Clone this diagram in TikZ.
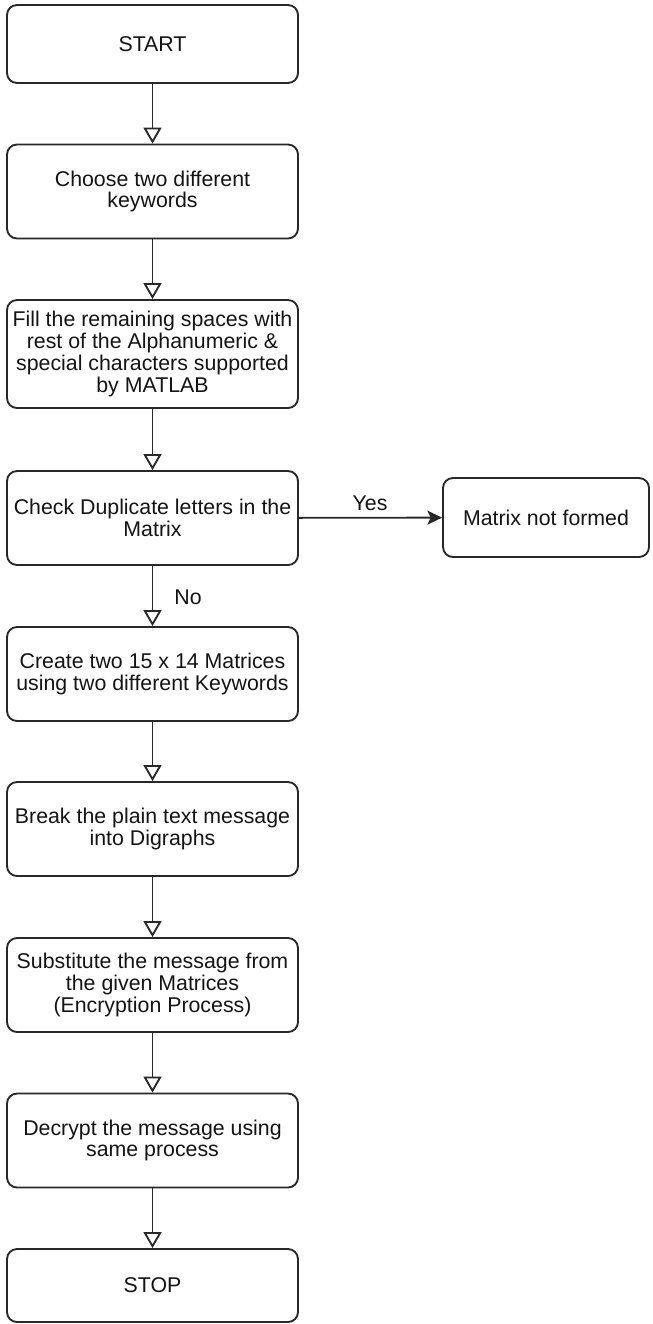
\documentclass[tikz,border=0pt]{standalone}
\usepackage{fontspec}
\setmainfont{Liberation Sans}
\usetikzlibrary{arrows.meta, positioning}
\definecolor{FlowLine}{RGB}{40, 40, 40}
\definecolor{FlowText}{RGB}{20, 20, 20}

\begin{document}
\begin{tikzpicture}[
    x=0.75pt, y=-0.75pt,
    font=\fontsize{16pt}{16.3pt}\selectfont,
    stepbox/.style={
        draw=FlowLine,             % dark grey border
        fill=white,
        rounded corners=7.5pt,
        line width=1.4pt,
        align=center,
        inner sep=2pt,
        minimum width=218.25pt,
        minimum height=70.5pt,
        text=FlowText
    },
    flow/.style={
        -{Triangle[open, length=12pt, width=13.5pt]},
        line width=1.4pt,
        draw=FlowLine
    },
    branch/.style={
        -{Stealth[length=11pt, width=10.5pt, inset=2.5pt]},
        line width=1.4pt,
        draw=FlowLine
    },
    choice_text/.style={
        font=\fontsize{16pt}{16.3pt}\selectfont,
        inner sep=2pt,
        text=FlowText
    }
]

    % --- 0. Canvas ---
    \useasboundingbox[fill=white] (0,0) rectangle (653,1324);

    % --- 1. Main column ---
    \node[stepbox, minimum height=58.5pt] (start) at (152.5,44) {START};
    \node[stepbox] (choose) at (152.5,191.5) {Choose two different\\keywords};
    \node[stepbox, minimum height=81pt] (fill) at (152.5,354) {Fill the remaining spaces with\\rest of the Alphanumeric \&\\special characters supported\\by MATLAB};
    \node[stepbox] (check) at (152.5,518) {Check Duplicate letters in the\\Matrix};
    \node[stepbox] (create) at (152.5,674) {Create two 15 x 14 Matrices\\using two different Keywords};
    \node[stepbox] (digraphs) at (152.5,829) {Break the plain text message\\into Digraphs};
    \node[stepbox] (subst) at (152.5,985) {Substitute the message from\\the given Matrices\\(Encryption Process)};
    \node[stepbox] (decrypt) at (152.5,1140.5) {Decrypt the message using\\same process};
    \node[stepbox, minimum height=54.75pt] (stop) at (152.5,1285.5) {STOP};

    % --- 2. Side branch ---
    \node[stepbox, minimum width=154.5pt, minimum height=59.25pt] (notformed) at (546,517.5) {Matrix not formed};

    % --- 3. Connectors ---
    \draw[flow] (start) -- (choose);
    \draw[flow] (choose) -- (fill);
    \draw[flow] (fill) -- (check);
    \draw[flow] (check) -- (create);
    \draw[flow] (create) -- (digraphs);
    \draw[flow] (digraphs) -- (subst);
    \draw[flow] (subst) -- (decrypt);
    \draw[flow] (decrypt) -- (stop);

    % Yes / No decision on duplicates
    \draw[branch] (check) -- (notformed);
    \node[choice_text] (yes) at (370,503) {Yes};
    \node[choice_text] (no) at (188,597) {No};

\end{tikzpicture}
\end{document}
